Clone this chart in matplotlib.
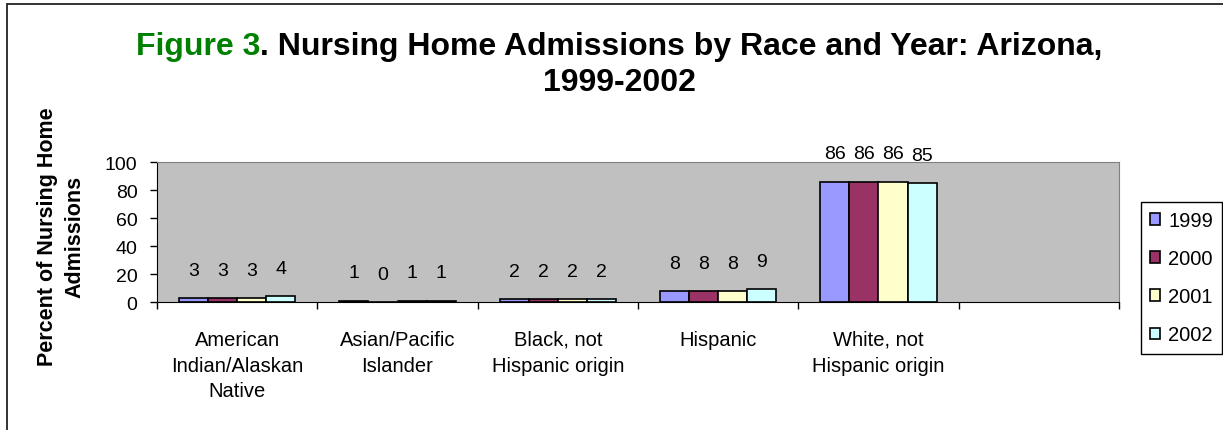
import matplotlib
matplotlib.use('Agg')
import matplotlib.pyplot as plt
import numpy as np
from matplotlib.patches import Rectangle

plt.rcParams['font.family'] = ['Liberation Sans', 'DejaVu Sans']

# data
categories = ['American\nIndian/Alaskan\nNative', 'Asian/Pacific\nIslander',
              'Black, not\nHispanic origin', 'Hispanic', 'White, not\nHispanic origin', '']
years = ['1999', '2000', '2001', '2002']
pct_1999 = [3, 1, 2, 8, 86]
pct_2000 = [3, 0, 2, 8, 86]
pct_2001 = [3, 1, 2, 8, 86]
pct_2002 = [4, 1, 2, 9, 85]
series = [pct_1999, pct_2000, pct_2001, pct_2002]
colors = ['#9999FF', '#993366', '#FFFFCC', '#CCFFFF']

W, H = 1223, 431
fig = plt.figure(figsize=(W / 100, H / 100), dpi=100)

# outer chart border (only left/top edges fall inside the image)
fig.patches.append(Rectangle((7 / W, -0.1), 1.2, 1 - 5 / H + 0.1, transform=fig.transFigure,
                             fill=False, edgecolor='#222222', linewidth=1.3))

ax = fig.add_axes([157 / W, 1 - 303 / H, (1119 - 157) / W, (303 - 163) / H])
ax.set_facecolor('#C0C0C0')

bw = 0.181
n_cat = len(pct_1999)
x = np.arange(n_cat) + 0.5
for i, (vals, col, yr) in enumerate(zip(series, colors, years)):
    pos = x + (i - 1.5) * bw
    bars = ax.bar(pos, vals, width=bw, color=col, edgecolor='black', linewidth=1.2, label=yr)
    for xp, v in zip(pos, vals):
        ax.annotate(str(v), (xp, v), xytext=(0, 20), textcoords='offset points',
                    ha='center', va='center', fontsize=14)

ax.set_xlim(0, 6)
ax.set_ylim(0, 100)
ax.set_yticks(range(0, 101, 20))
ax.tick_params(axis='y', direction='out', length=5, width=1, pad=9, labelsize=14)
ax.set_xticks(range(0, 7))
ax.set_xticklabels([])
ax.tick_params(axis='x', which='major', direction='out', length=5, width=1)
ax.set_xticks(np.arange(6) + 0.5, minor=True)
ax.set_xticklabels(categories, minor=True, fontsize=14.5, linespacing=1.45, va='top')
ax.tick_params(axis='x', which='minor', length=0, pad=20)

for s in ['top', 'right']:
    ax.spines[s].set_color('#808080')
for s in ['left', 'bottom']:
    ax.spines[s].set_color('black')

fig.text(61 / W, 1 - 237 / H, 'Percent of Nursing Home\nAdmissions', rotation=90,
         ha='center', va='center', fontsize=15.5, fontweight='bold', linespacing=1.4)

# title: "Figure 3" in green, rest in black
fig.canvas.draw()
r = fig.canvas.get_renderer()
t1 = fig.text(0, 1 - 47 / H, 'Figure 3', color='#008000', fontsize=23, fontweight='bold', va='center')
t2 = fig.text(0, 1 - 47 / H, '. Nursing Home Admissions by Race and Year: Arizona,',
              color='black', fontsize=23, fontweight='bold', va='center')
w1 = t1.get_window_extent(renderer=r).width
w2 = t2.get_window_extent(renderer=r).width
x0 = 619 - (w1 + w2) / 2
t1.set_x(x0 / W)
t2.set_x((x0 + w1) / W)
fig.text(619 / W, 1 - 83 / H, '1999-2002', fontsize=23, fontweight='bold', ha='center', va='center')

leg = fig.legend(loc='upper left', bbox_to_anchor=(1141 / W, 1 - 203 / H), fontsize=14.5,
                 handlelength=0.5, handleheight=0.5, handletextpad=0.4, labelspacing=0.95,
                 borderpad=0.45, borderaxespad=0, fancybox=False, framealpha=1)
leg.get_frame().set_edgecolor('black')
leg.get_frame().set_linewidth(1)

plt.savefig('out.png', dpi=100)
